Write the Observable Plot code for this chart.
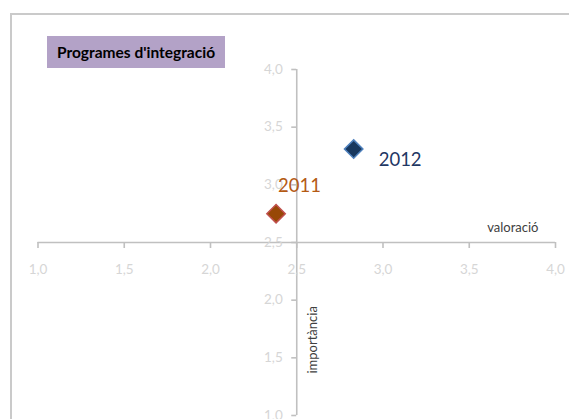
<!DOCTYPE html>
<html>
<head>
<meta charset="utf-8">
<script src="https://cdn.jsdelivr.net/npm/d3@7"></script>
<script src="https://cdn.jsdelivr.net/npm/@observablehq/plot@0.6"></script>
<style>
  html, body { margin: 0; padding: 0; background: #fff; overflow: hidden; }
  #wrap { position: relative; width: 569px; height: 419px; overflow: hidden; }
  #frame { position: absolute; left: 10px; top: 13px; width: 700px; height: 600px; border: 2px solid #cacaca; box-sizing: border-box; }
  #title { position: absolute; left: 47px; top: 36px; width: 178px; height: 32px; background: #b3a2c7;
           font: bold 15.5px Lato, "Open Sans", sans-serif; color: #000; line-height: 32px; text-align: center; }
  #chart { position: absolute; left: 0; top: 0; }
</style>
</head>
<body>
<div id="wrap">
  <div id="frame"></div>
  <div id="chart"></div>
  <div id="title">Programes d'integració</div>
</div>
<script>
const years = ["2011", "2012"];
const valoracio = [2.38, 2.83];
const importancia = [2.75, 3.31];
const fills = ["#984807", "#17375e"];
const strokes = ["#c0504d", "#4f81bd"];
const labelColors = ["#b45a14", "#1f3864"];
const xTicks = [1.0, 1.5, 2.0, 2.5, 3.0, 3.5, 4.0];
const yTicks = [1.0, 1.5, 2.0, 2.5, 3.0, 3.5, 4.0];
const xTitle = "valoració";
const yTitle = "importància";

const fmt = d => d.toFixed(1).replace(".", ",");
const points = years.map((y, i) => ({year: y, x: valoracio[i], y: importancia[i], fill: fills[i], stroke: strokes[i], lc: labelColors[i]}));
const axisColor = "#c0c0c0";
const tickColor = "#d6d6d6";

const chart = Plot.plot({
  width: 569,
  height: 419,
  marginLeft: 37.5,
  marginRight: 14,
  marginTop: 69,
  marginBottom: 4,
  style: {fontFamily: "Lato, 'Open Sans', sans-serif", background: "transparent"},
  x: {domain: [1, 4], axis: null},
  y: {domain: [1, 4], axis: null},
  marks: [
    Plot.ruleY([2.5], {x1: 1, x2: 4, stroke: axisColor, strokeWidth: 1.6}),
    Plot.ruleX([2.5], {y1: 1, y2: 4, stroke: axisColor, strokeWidth: 1.6}),
    Plot.ruleX(xTicks, {x: d => d, y1: 2.5, y2: 2.5, insetBottom: -6, stroke: axisColor, strokeWidth: 1.6}),
    Plot.ruleY(yTicks, {y: d => d, x1: 2.5, x2: 2.5, insetLeft: -5, stroke: axisColor, strokeWidth: 1.6}),
    Plot.text(xTicks, {x: d => d, y: 2.5, text: fmt, dy: 27, fill: tickColor, fontSize: 13.5}),
    Plot.text(yTicks, {x: 2.5, y: d => d, text: fmt, dx: -14, textAnchor: "end", fill: tickColor, fontSize: 13.5}),
    Plot.text([xTitle], {x: 4, y: 2.5, text: d => d, dx: -17, dy: -15, textAnchor: "end", fill: "#404040", fontSize: 13}),
    Plot.text([yTitle], {x: 2.5, y: 1.5, text: d => d, dx: 16, dy: -18, rotate: -90, fill: "#404040", fontSize: 13}),
    Plot.dot(points, {x: "x", y: "y", symbol: "diamond2", r: 8.3, fill: d => d.fill, stroke: d => d.stroke, strokeWidth: 1.5}),
    Plot.text(points.filter(d => d.year === "2012"), {x: "x", y: "y", text: "year", dx: 25, dy: 11, textAnchor: "start", fill: d => d.lc, fontSize: 18.5}),
    Plot.text(points.filter(d => d.year === "2011"), {x: "x", y: "y", text: "year", dx: 2, dy: -28, textAnchor: "start", fill: d => d.lc, fontSize: 18.5})
  ]
});
document.getElementById("chart").appendChild(chart);
</script>
</body>
</html>
